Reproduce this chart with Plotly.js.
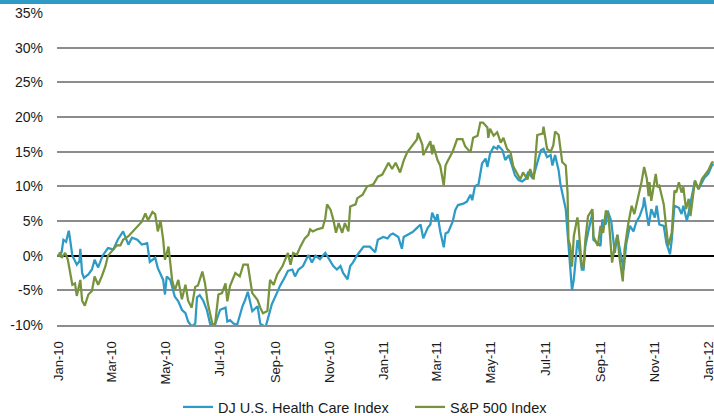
<!DOCTYPE html>
<html>
<head>
<meta charset="utf-8">
<script src="https://cdn.plot.ly/plotly-3.0.1.min.js"></script>
<style>
  html, body { margin: 0; padding: 0; background: #fff; }
  #chart { width: 714px; height: 416px; }
</style>
</head>
<body>
<div id="chart"></div>
<script>
// ---- DJ U.S. Health Care Index (cumulative % change) ----
const hcDates = [
  '2009-12-30','2010-01-01','2010-01-04','2010-01-06','2010-01-09','2010-01-12','2010-01-13','2010-01-16','2010-01-18','2010-01-21','2010-01-24','2010-01-25','2010-01-27','2010-01-29',
  '2010-02-03','2010-02-07','2010-02-10','2010-02-14','2010-02-19','2010-02-25','2010-03-03','2010-03-08','2010-03-14','2010-03-20','2010-03-24','2010-03-30',
  '2010-04-04','2010-04-10','2010-04-13','2010-04-19','2010-04-22','2010-04-28','2010-04-30','2010-05-02','2010-05-06','2010-05-11','2010-05-15','2010-05-19','2010-05-23','2010-05-26','2010-05-30',
  '2010-06-03','2010-06-05','2010-06-08','2010-06-12','2010-06-16','2010-06-20','2010-06-25','2010-07-01','2010-07-07','2010-07-09','2010-07-12','2010-07-16','2010-07-20','2010-07-26','2010-07-29',
  '2010-08-01','2010-08-06','2010-08-12','2010-08-15','2010-08-21','2010-08-24','2010-08-28','2010-09-03','2010-09-06','2010-09-12','2010-09-15','2010-09-20','2010-09-23','2010-09-27',
  '2010-10-02','2010-10-08','2010-10-12','2010-10-16','2010-10-21','2010-10-27','2010-10-30','2010-11-05','2010-11-09','2010-11-13','2010-11-16','2010-11-21','2010-11-24','2010-11-27',
  '2010-12-02','2010-12-05','2010-12-09','2010-12-14','2010-12-16','2010-12-22','2010-12-25','2010-12-31',
  '2011-01-05','2011-01-08','2011-01-11','2011-01-17','2011-01-21','2011-01-23','2011-01-28','2011-02-02','2011-02-07','2011-02-11','2011-02-14','2011-02-19','2011-02-22','2011-02-24','2011-02-28',
  '2011-03-02','2011-03-05','2011-03-09','2011-03-11','2011-03-14','2011-03-19','2011-03-22','2011-03-25','2011-03-31','2011-04-04','2011-04-08','2011-04-10','2011-04-13','2011-04-17','2011-04-21','2011-04-25','2011-04-27','2011-04-30',
  '2011-05-04','2011-05-08','2011-05-09','2011-05-14','2011-05-17','2011-05-21','2011-05-25','2011-05-28','2011-06-01','2011-06-05','2011-06-09','2011-06-12','2011-06-17','2011-06-22','2011-06-26','2011-06-29',
  '2011-07-03','2011-07-07','2011-07-09','2011-07-12','2011-07-16','2011-07-18','2011-07-21','2011-07-24','2011-07-26','2011-07-27','2011-07-29','2011-07-31',
  '2011-08-02','2011-08-06','2011-08-07','2011-08-11','2011-08-13','2011-08-15','2011-08-18','2011-08-21','2011-08-23','2011-08-24','2011-08-29',
  '2011-09-01','2011-09-03','2011-09-07','2011-09-09','2011-09-13','2011-09-17','2011-09-20','2011-09-22','2011-09-27','2011-09-30',
  '2011-10-04','2011-10-08','2011-10-11','2011-10-15','2011-10-19','2011-10-20','2011-10-25','2011-10-28',
  '2011-11-01','2011-11-03','2011-11-06','2011-11-11','2011-11-14','2011-11-18','2011-11-20','2011-11-23','2011-11-28',
  '2011-12-01','2011-12-03','2011-12-07','2011-12-10','2011-12-14','2011-12-16','2011-12-20','2011-12-24','2011-12-27','2011-12-31','2012-01-04','2012-01-06'
];
const hcValues = [
  0,0,0.5,2.3,2.0,3.6,2.8,0,-0.5,-1.3,-0.8,1.0,-2.5,-3.2,
  -2.7,-2.0,-0.6,-1.7,0,1.1,0.9,2.3,3.5,1.6,2.6,2.3,
  1.6,1.8,-0.9,-0.3,-1.8,-3.5,-5.6,-3.0,-3.5,-5.9,-6.6,-7.8,-8.3,-9.5,-10.2,
  -9.8,-6.0,-5.7,-6.5,-7.8,-10.0,-10.0,-7.8,-7.5,-9.5,-9.3,-9.8,-10.0,-7.3,-6.4,
  -5.2,-8.0,-7.3,-9.8,-10.3,-8.8,-7.0,-5.3,-4.4,-3.0,-2.2,-2.0,-3.0,-2.0,
  -1.5,0.1,-1.0,0,-0.5,0.4,-0.3,-1.5,-2.0,-1.5,-2.5,-3.4,-1.5,-1.0,
  0.1,0.6,1.3,1.3,1.3,0.5,2.3,2.7,
  2.5,3.0,3.2,2.7,1.0,2.7,3.0,3.4,4.0,4.5,2.5,4.0,4.5,6.2,5.0,
  6.0,3.5,1.2,3.2,3.4,4.9,6.6,7.3,7.5,7.8,8.8,8.0,10.0,10.3,13.3,14.0,12.8,14.7,
  15.7,15.4,15.9,15.2,13.8,14.5,12.8,11.6,10.9,10.7,11.1,12.1,11.1,13.2,15.2,15.4,
  14.2,14.5,13.0,14.5,12.3,10.3,8.6,6.7,3.3,1.4,-1.6,-5.0,
  -3.5,2.1,2.1,-2.0,-2.0,1.4,3.3,5.0,6.2,2.3,1.8,
  1.4,5.2,4.5,6.5,5.0,0.4,3.0,1.4,-2.0,1.8,
  4.3,3.5,4.8,5.7,7.2,8.4,4.3,6.7,
  5.5,7.2,4.5,4.3,1.8,0.2,2.3,7.2,6.9,
  6.0,7.2,5.0,6.9,9.1,10.8,9.6,10.6,11.3,11.8,13.0,13.2
];

// ---- S&P 500 Index (cumulative % change) ----
const spDates = [
  '2009-12-30','2010-01-01','2010-01-02','2010-01-04','2010-01-08','2010-01-11','2010-01-16','2010-01-19','2010-01-21','2010-01-25','2010-01-27','2010-01-30',
  '2010-02-03','2010-02-07','2010-02-10','2010-02-14','2010-02-18','2010-02-22','2010-02-25','2010-03-02','2010-03-07','2010-03-11','2010-03-14','2010-03-20','2010-03-25','2010-03-31',
  '2010-04-04','2010-04-08','2010-04-11','2010-04-16','2010-04-19','2010-04-22','2010-04-25','2010-04-28','2010-04-30','2010-05-04','2010-05-08','2010-05-11','2010-05-15','2010-05-19','2010-05-23','2010-05-26','2010-05-30',
  '2010-06-03','2010-06-06','2010-06-11','2010-06-14','2010-06-17','2010-06-22','2010-06-25','2010-06-29','2010-07-03','2010-07-07','2010-07-09','2010-07-12','2010-07-18','2010-07-23','2010-07-27',
  '2010-08-01','2010-08-06','2010-08-12','2010-08-15','2010-08-18','2010-08-23','2010-08-26','2010-08-30','2010-09-03','2010-09-09','2010-09-12','2010-09-15','2010-09-18','2010-09-21','2010-09-25','2010-09-29',
  '2010-10-04','2010-10-08','2010-10-10','2010-10-13','2010-10-18','2010-10-24','2010-10-27','2010-10-29','2010-11-02','2010-11-05','2010-11-08','2010-11-11','2010-11-15','2010-11-18','2010-11-22','2010-11-24','2010-11-30',
  '2010-12-02','2010-12-08','2010-12-13','2010-12-20','2010-12-25','2010-12-30',
  '2011-01-02','2011-01-06','2011-01-10','2011-01-14','2011-01-19','2011-01-23','2011-01-27','2011-02-02','2011-02-07','2011-02-08','2011-02-13','2011-02-14','2011-02-19','2011-02-22','2011-02-24','2011-02-25',
  '2011-03-02','2011-03-05','2011-03-09','2011-03-11','2011-03-14','2011-03-19','2011-03-24','2011-03-30','2011-04-02','2011-04-08','2011-04-11','2011-04-16','2011-04-19','2011-04-22','2011-04-27','2011-04-28','2011-04-30',
  '2011-05-04','2011-05-08','2011-05-12','2011-05-15','2011-05-19','2011-05-23','2011-05-26','2011-05-31','2011-06-03','2011-06-06','2011-06-11','2011-06-14','2011-06-18','2011-06-22','2011-06-28','2011-06-29',
  '2011-07-03','2011-07-07','2011-07-10','2011-07-12','2011-07-16','2011-07-20','2011-07-24','2011-07-26','2011-07-27','2011-07-29','2011-07-31',
  '2011-08-02','2011-08-06','2011-08-07','2011-08-11','2011-08-13','2011-08-15','2011-08-18','2011-08-23','2011-08-24','2011-08-29',
  '2011-09-01','2011-09-04','2011-09-07','2011-09-10','2011-09-14','2011-09-17','2011-09-20','2011-09-22','2011-09-26','2011-09-28',
  '2011-10-02','2011-10-06','2011-10-09','2011-10-14','2011-10-17','2011-10-20','2011-10-23','2011-10-25','2011-10-26','2011-10-28','2011-10-31',
  '2011-11-02','2011-11-04','2011-11-06','2011-11-11','2011-11-14','2011-11-16','2011-11-20','2011-11-23','2011-11-25','2011-11-28',
  '2011-12-01','2011-12-03','2011-12-06','2011-12-09','2011-12-11','2011-12-14','2011-12-16','2011-12-20','2011-12-24','2011-12-27','2011-12-31','2012-01-04','2012-01-06'
];
const spValues = [
  0,0,0.5,-0.3,0.4,-0.6,-4.2,-4.0,-5.8,-3.5,-6.5,-7.2,
  -5.6,-5.1,-3.0,-4.2,-3.0,-1.6,0,0.8,1.5,1.5,2.3,2.8,3.5,4.2,
  4.9,6.1,5.1,6.3,6.0,3.5,5.1,2.3,-0.6,1.3,-3.5,-5.0,-3.5,-6.3,-4.2,-6.5,-7.5,
  -4.5,-4.3,-2.3,-4.0,-6.8,-9.7,-10.2,-5.6,-5.4,-4.0,-6.6,-4.4,-2.5,-3.0,-1.3,
  -1.3,-5.4,-6.4,-7.5,-8.3,-8.0,-3.5,-4.2,-2.7,-1.5,-0.6,0.4,-1.3,0.4,0.1,1.3,
  2.5,3.0,3.8,3.5,3.8,4.0,5.4,7.4,6.6,5.2,3.3,4.7,3.3,4.7,3.5,7.1,7.4,
  8.3,8.8,10.0,10.3,11.4,11.7,
  12.5,13.4,12.5,13.4,12.0,13.7,14.9,16.0,16.8,17.7,16.0,14.5,15.8,16.5,14.6,16.0,
  13.8,13.0,10.1,13.0,13.8,15.0,16.8,16.8,15.8,14.9,17.0,17.3,19.2,19.2,18.5,17.0,18.3,
  17.3,17.8,16.3,17.0,15.4,14.9,12.9,11.7,11.0,12.0,11.0,12.5,11.0,17.4,17.6,18.6,
  15.4,15.0,15.9,17.9,17.4,13.5,13.0,9.1,2.3,1.4,-1.6,
  2.8,5.5,4.8,-1.6,-1.6,2.3,5.7,6.7,2.8,1.4,
  4.3,3.3,6.5,5.7,-1.0,1.4,3.0,0,-3.7,0.9,
  4.5,7.2,6.0,8.6,10.6,12.8,11.1,8.6,10.6,7.9,10.6,
  11.8,9.9,10.1,7.4,3.3,1.4,3.3,9.4,9.1,10.6,
  9.1,9.9,6.7,8.2,5.7,8.6,10.8,9.6,11.1,11.6,12.3,13.4,13.5
];

const seriesNames = ['DJ U.S. Health Care Index', 'S&P 500 Index'];
const seriesColors = ['#2e9bc6', '#77933c'];

const xTickVals = ['2010-01-01','2010-03-01','2010-05-01','2010-07-01','2010-09-01','2010-11-01',
                   '2011-01-01','2011-03-01','2011-05-01','2011-07-01','2011-09-01','2011-11-01','2012-01-01'];
const xTickText = ['Jan-10','Mar-10','May-10','Jul-10','Sep-10','Nov-10',
                   'Jan-11','Mar-11','May-11','Jul-11','Sep-11','Nov-11','Jan-12'];
const yTickVals = [-10,-5,0,5,10,15,20,25,30,35];
const yTickText = ['-10%','-5%','0%','5%','10%','15%','20%','25%','30%','35%'];

const traces = [
  {x: hcDates, y: hcValues, name: seriesNames[0], type: 'scatter', mode: 'lines',
   line: {color: seriesColors[0], width: 2.25}, legend: 'legend'},
  {x: spDates, y: spValues, name: seriesNames[1], type: 'scatter', mode: 'lines',
   line: {color: seriesColors[1], width: 2.25}, legend: 'legend2'}
];

const W = 714, H = 416, L = 57, R = 0, T = 13, B = 91;
const pw = W - L - R, ph = H - T - B;
const legFont = {family: 'Liberation Sans, Arial, sans-serif', size: 14.5, color: '#1a1a1a'};
const legY = (T + ph - 407) / ph;

const layout = {
  width: W, height: H,
  margin: {l: L, r: R, t: T, b: B, pad: 0, autoexpand: false},
  paper_bgcolor: '#ffffff', plot_bgcolor: '#ffffff',
  font: {family: 'Liberation Sans, Arial, sans-serif', size: 14, color: '#1a1a1a'},
  showlegend: true,
  legend: {orientation: 'h', x: (178 - L) / pw, xanchor: 'left', y: legY, yanchor: 'middle',
           font: legFont, bgcolor: 'rgba(0,0,0,0)'},
  legend2: {orientation: 'h', x: (410 - L) / pw, xanchor: 'left', y: legY, yanchor: 'middle',
           font: legFont, bgcolor: 'rgba(0,0,0,0)'},
  xaxis: {
    type: 'date', automargin: false,
    range: ['2009-12-29 19:00', '2012-01-06 10:00'],
    tickmode: 'array', tickvals: xTickVals, ticktext: xTickText,
    tickangle: -90, tickfont: {size: 13, color: '#1a1a1a'},
    ticklabeloverflow: 'allow',
    showgrid: false, zeroline: false,
    showline: true, linecolor: '#8c8c8c', linewidth: 2,
    ticks: '', ticklabelstandoff: 9
  },
  yaxis: {
    range: [-10, 35], automargin: false,
    tickmode: 'array', tickvals: yTickVals, ticktext: yTickText,
    tickfont: {size: 14, color: '#1a1a1a'},
    showgrid: true, gridcolor: '#8c8c8c', gridwidth: 2,
    zeroline: true, zerolinecolor: '#000000', zerolinewidth: 2,
    showline: false, ticks: '', ticklabelstandoff: 13
  },
  shapes: [
    {type: 'rect', xref: 'paper', yref: 'paper', layer: 'above',
     x0: -L / pw, x1: 1 + R / pw, y0: 1 + (T - 4) / ph, y1: 1 + T / ph,
     fillcolor: '#2e9bc6', line: {width: 0}}
  ]
};

Plotly.newPlot('chart', traces, layout, {staticPlot: true, displayModeBar: false});
</script>
</body>
</html>
